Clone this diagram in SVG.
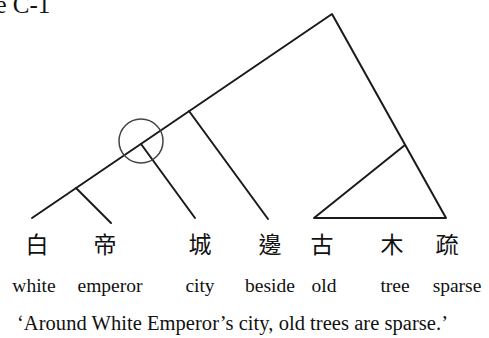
<svg xmlns="http://www.w3.org/2000/svg" width="489" height="338" viewBox="0 0 489 338">
<style>
.e{stroke:#1a1a1a;stroke-width:2;fill:none;stroke-linecap:round;stroke-linejoin:round}
.c{font-family:"Noto Sans CJK TC","Noto Sans CJK SC",sans-serif;font-size:23px;fill:#111;text-anchor:middle}
.g{font-family:"Liberation Serif",serif;font-size:19.5px;fill:#111;text-anchor:middle}
.t{font-family:"Liberation Serif",serif;font-size:20.5px;fill:#111}
</style>
<rect width="489" height="338" fill="#fff"/>
<text class="t" x="-4.5" y="12.5" style="font-size:25px">e C-1</text>
<g id="connectors">
<path class="e" d="M32 218 L332 14 L446 218 L314 218 L405 145"/>
<path class="e" d="M76 188 L111 223"/>
<path class="e" d="M141 144 L195 218"/>
<path class="e" d="M189 111 L268 219"/>
<circle cx="141" cy="141" r="22" fill="none" stroke="#444" stroke-width="1.5"/>
</g>
<g id="n-white"><text class="c" x="37" y="253">白</text><text class="g" x="34" y="292">white</text></g>
<g id="n-emperor"><text class="c" x="105" y="253">帝</text><text class="g" x="110" y="292">emperor</text></g>
<g id="n-city"><text class="c" x="200" y="253">城</text><text class="g" x="200" y="292">city</text></g>
<g id="n-beside"><text class="c" x="270" y="253">邊</text><text class="g" x="270" y="292">beside</text></g>
<g id="n-old"><text class="c" x="322" y="253">古</text><text class="g" x="324" y="292">old</text></g>
<g id="n-tree"><text class="c" x="392" y="253">木</text><text class="g" x="395" y="292">tree</text></g>
<g id="n-sparse"><text class="c" x="447" y="253">疏</text><text class="g" x="457" y="292">sparse</text></g>
<text class="t" x="17" y="330" textLength="431" lengthAdjust="spacing">‘Around White Emperor’s city, old trees are sparse.’</text>
</svg>
